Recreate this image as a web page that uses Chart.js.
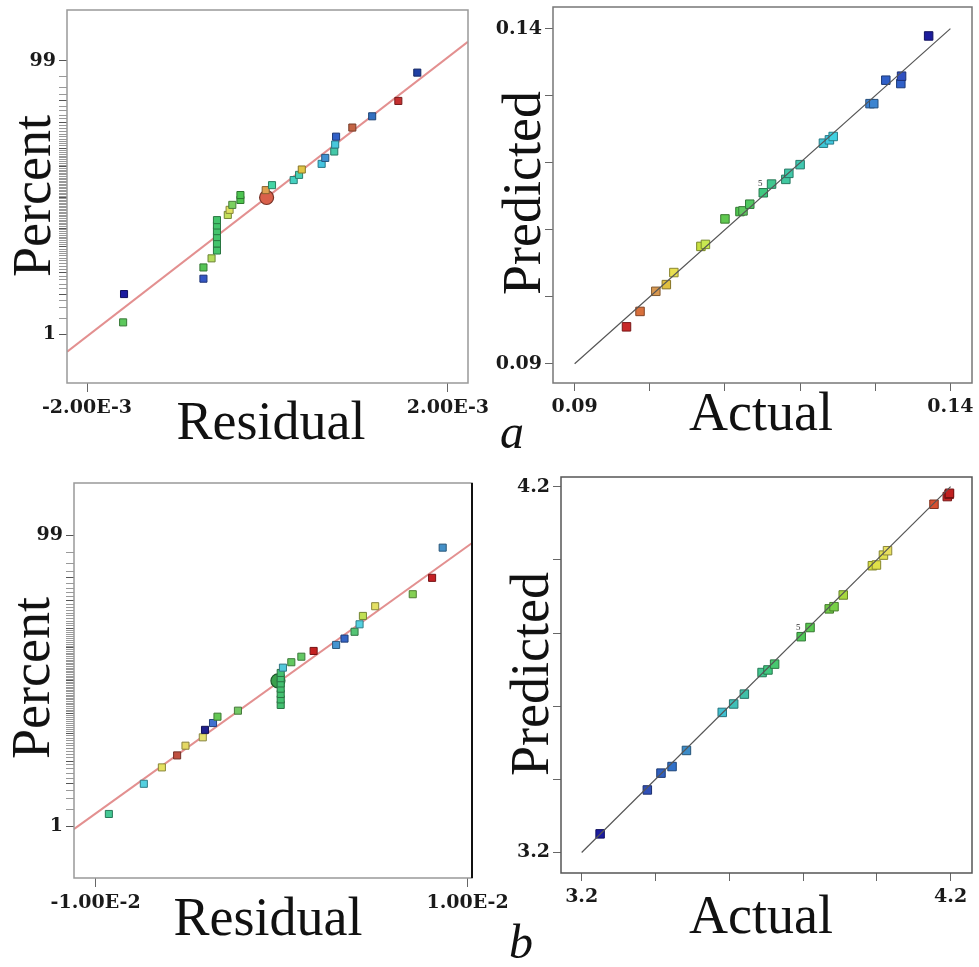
<!DOCTYPE html>
<html>
<head>
<meta charset="utf-8">
<script src="https://cdn.jsdelivr.net/npm/chart.js@4.4.1/dist/chart.umd.min.js"></script>
<style>
    body { margin: 0; background: #fff; width: 979px; height: 967px; position: relative; overflow: hidden; font-family: "Liberation Serif", "Times New Roman", serif; }
    canvas { position: absolute; left: 0; top: 0; }
    .title { position: absolute; font-size: 54px; line-height: 1; color: #111; white-space: nowrap; transform: translate(-50%, -50%); }
    .title.v { transform: translate(-50%, -50%) rotate(-90deg); }
    .tag { position: absolute; font-size: 48px; line-height: 1; font-style: italic; color: #111; }
</style>
</head>
<body>
<canvas id="aNormal" width="979" height="967"></canvas>
<canvas id="aPred" width="979" height="967"></canvas>
<canvas id="bNormal" width="979" height="967"></canvas>
<canvas id="bPred" width="979" height="967"></canvas>

<div class="title v" style="left:32px;top:196px">Percent</div>
<div class="title" style="left:271px;top:421px">Residual</div>
<div class="title v" style="left:522px;top:193px">Predicted</div>
<div class="title" style="left:761px;top:412px">Actual</div>
<div class="tag" style="left:500px;top:408px">a</div>

<div class="title v" style="left:31px;top:678px">Percent</div>
<div class="title" style="left:268px;top:917px">Residual</div>
<div class="title v" style="left:530px;top:674px">Predicted</div>
<div class="title" style="left:761px;top:915px">Actual</div>
<div class="tag" style="left:509px;top:918px">b</div>

<script>
// ---- shared: normal probability ranks (percent)
const percentRank = [1.67, 5.00, 8.33, 11.67, 15.00, 18.33, 21.67, 25.00, 28.33, 31.67,
    35.00, 38.33, 41.67, 45.00, 48.33, 51.67, 55.00, 58.33, 61.67, 65.00,
    68.33, 71.67, 75.00, 78.33, 81.67, 85.00, 88.33, 91.67, 95.00, 98.33];

// ---- panel a, normal plot of residuals
const aResidual = [-1.60e-3, -1.59e-3, -0.71e-3, -0.71e-3, -0.62e-3, -0.56e-3, -0.56e-3, -0.56e-3, -0.56e-3, -0.56e-3,
    -0.56e-3, -0.44e-3, -0.42e-3, -0.39e-3, -0.30e-3, -0.30e-3, -0.02e-3, 0.05e-3, 0.29e-3, 0.35e-3,
    0.38e-3, 0.60e-3, 0.64e-3, 0.74e-3, 0.75e-3, 0.76e-3, 0.94e-3, 1.16e-3, 1.45e-3, 1.66e-3];
const aResidualColors = ['#5cc85c', '#1c1ca0', '#3456c4', '#56c456', '#b4dc5a', '#44c46c', '#44c46c', '#44c46c', '#44c46c', '#44c46c',
    '#44c46c', '#c4e05a', '#e0e060', '#7cd060', '#4cc44c', '#4cc450', '#e0a050', '#44d4a4', '#44d0c0', '#48d0b4',
    '#e0c444', '#44c4e0', '#4090d0', '#44c8a8', '#48c8dc', '#3060c8', '#c46444', '#3470c0', '#c43030', '#2040a4'];
const aFitResidual = [-2.22e-3, 2.22e-3];
const aFitPercent = [0.43, 99.6];
const aCenter = [-0.01e-3, 50];

// ---- panel a, predicted vs actual
const aActual = [0.0969, 0.0987, 0.1008, 0.1022, 0.1032, 0.1068, 0.1074, 0.1100, 0.1120, 0.1124,
    0.1133, 0.1151, 0.1162, 0.1181, 0.1185, 0.1200, 0.1231, 0.1239, 0.1244, 0.1293,
    0.1298, 0.1314, 0.1334, 0.1335, 0.1371];
const aPredicted = [0.0955, 0.0978, 0.1008, 0.1018, 0.1036, 0.1075, 0.1078, 0.1116, 0.1127, 0.1128,
    0.1138, 0.1155, 0.1168, 0.1175, 0.1184, 0.1197, 0.1229, 0.1234, 0.1239, 0.1288,
    0.1288, 0.1323, 0.1318, 0.1329, 0.1389];
const aPredColors = ['#c82828', '#d8703c', '#d89850', '#e0c040', '#e8e050', '#c8e040', '#c8e850', '#60c850', '#50c850', '#60c860',
    '#50c860', '#40c880', '#40c890', '#40c8a0', '#40c8a8', '#40c8b0', '#40c8d8', '#40c8e0', '#40d0e0', '#3c80d0',
    '#3c84d0', '#3060c8', '#3060c8', '#3050c0', '#1c1c9c'];

// ---- panel b, normal plot of residuals
const bResidual = [-9.29e-3, -7.41e-3, -6.44e-3, -5.62e-3, -5.17e-3, -4.24e-3, -4.12e-3, -3.69e-3, -3.45e-3, -2.35e-3,
    -0.05e-3, -0.05e-3, -0.05e-3, -0.05e-3, -0.05e-3, -0.05e-3, -0.05e-3, 0.07e-3, 0.52e-3, 1.06e-3,
    1.72e-3, 2.93e-3, 3.38e-3, 3.92e-3, 4.19e-3, 4.37e-3, 5.03e-3, 7.05e-3, 8.09e-3, 8.66e-3];
const bResidualColors = ['#44c894', '#54d0e0', '#e4e060', '#c05040', '#e4d864', '#e4e070', '#20208c', '#4070d0', '#64c854', '#74c864',
    '#44c070', '#44c070', '#44c070', '#44c070', '#44c070', '#44c070', '#44c070', '#54c8dc', '#64c860', '#64c864',
    '#c42020', '#4494d0', '#3464c4', '#54c474', '#54d0e0', '#c0e054', '#e4e064', '#84d054', '#c42024', '#4490c8'];
const bFitResidual = [-11.17e-3, 10.24e-3];
const bFitPercent = [0.89, 98.61];
const bCenter = [-0.2e-3, 50];

// ---- panel b, predicted vs actual
const bActual = [3.250, 3.378, 3.415, 3.445, 3.484, 3.581, 3.612, 3.641, 3.689, 3.705,
    3.723, 3.795, 3.819, 3.871, 3.884, 3.909, 3.988, 3.999, 4.018, 4.029,
    4.155, 4.191, 4.196, 4.197];
const bPredicted = [3.251, 3.371, 3.417, 3.435, 3.479, 3.583, 3.606, 3.633, 3.692, 3.699,
    3.715, 3.790, 3.815, 3.866, 3.872, 3.904, 3.984, 3.986, 4.013, 4.025,
    4.152, 4.173, 4.179, 4.182];
const bPredColors = ['#1c1ca0', '#3050b8', '#3060c0', '#3070c8', '#3c8cc8', '#40c0d0', '#40c0b8', '#40c0a8', '#40c890', '#40c880',
    '#48c870', '#50c858', '#58c850', '#70c848', '#78d048', '#a8d840', '#d8e040', '#e0e048', '#e0e050', '#e8e060',
    '#d85030', '#c82828', '#c02020', '#c02020'];

// ---- tick positions and labels
const probTicks = [];
for (let p = 1; p <= 99; p++) probTicks.push(p);
const probMajor = [1, 5, 10, 20, 30, 50, 70, 80, 90, 95, 99];
const probLabels = probTicks.map(p => (p === 1 || p === 99) ? String(p) : '');
const aResTicks = [-2e-3, 2e-3];
const aResLabels = ['-2.00E-3', '2.00E-3'];
const aPredTicks = [0.09, 0.10, 0.11, 0.12, 0.13, 0.14];
const aPredLabels = ['0.09', '', '', '', '', '0.14'];
const bResTicks = [-1e-2, 1e-2];
const bResLabels = ['-1.00E-2', '1.00E-2'];
const bPredTicks = [3.2, 3.4, 3.6, 3.8, 4.0, 4.2];
const bPredLabels = ['3.2', '', '', '', '', '4.2'];

// inverse normal CDF (Acklam) - used for the probability axis
function probit(p) {
    const a = [-39.6968302866538, 220.946098424521, -275.928510446969, 138.357751867269, -30.6647980661472, 2.50662827745924];
    const b = [-54.4760987982241, 161.585836858041, -155.698979859887, 66.8013118877197, -13.2806815528857];
    const c = [-0.00778489400243029, -0.322396458041136, -2.40075827716184, -2.54973253934373, 4.37466414146497, 2.93816398269878];
    const d = [0.00778469570904146, 0.32246712907004, 2.445134137143, 3.75440866190742];
    const lo = 0.02425;
    if (p < lo) {
        const q = Math.sqrt(-2 * Math.log(p));
        return (((((c[0] * q + c[1]) * q + c[2]) * q + c[3]) * q + c[4]) * q + c[5]) / ((((d[0] * q + d[1]) * q + d[2]) * q + d[3]) * q + 1);
    }
    if (p > 1 - lo) {
        const q = Math.sqrt(-2 * Math.log(1 - p));
        return -(((((c[0] * q + c[1]) * q + c[2]) * q + c[3]) * q + c[4]) * q + c[5]) / ((((d[0] * q + d[1]) * q + d[2]) * q + d[3]) * q + 1);
    }
    const q = p - 0.5, r = q * q;
    return (((((a[0] * r + a[1]) * r + a[2]) * r + a[3]) * r + a[4]) * r + a[5]) * q / (((((b[0] * r + b[1]) * r + b[2]) * r + b[3]) * r + b[4]) * r + 1);
}

function shade(hex, f) {
    const n = parseInt(hex.slice(1), 16);
    const r = Math.round(((n >> 16) & 255) * f), g = Math.round(((n >> 8) & 255) * f), b = Math.round((n & 255) * f);
    return `rgb(${r},${g},${b})`;
}

const tickFont = { family: '"DejaVu Serif", serif', weight: 'bold', size: 19 };
const AXIS = 60;

/**
 * Frame round the plot area + small run-count notes
 */
const framePlugin = {
    id: 'frame',
    afterDraw(chart, args, opts) {
        const { ctx, chartArea: a } = chart;
        ctx.save();
        ctx.lineWidth = 1.5;
        ctx.strokeStyle = opts.color;
        ctx.strokeRect(a.left, a.top, a.right - a.left, a.bottom - a.top);
        if (opts.rightColor) {
            ctx.strokeStyle = opts.rightColor;
            ctx.lineWidth = 2;
            ctx.beginPath();
            ctx.moveTo(a.right, a.top);
            ctx.lineTo(a.right, a.bottom);
            ctx.stroke();
        }
        if (opts.note) {
            const x = chart.scales.x.getPixelForValue(opts.note.x);
            const y = chart.scales.y.getPixelForValue(opts.note.y);
            ctx.fillStyle = '#333';
            ctx.font = '9px "Liberation Serif", serif';
            ctx.textAlign = 'center';
            ctx.fillText(opts.note.text, x - 3, y - 7);
        }
        ctx.restore();
    }
};

function axis(a, dir) {
    return {
        type: 'linear',
        min: a.min,
        max: a.max,
        afterBuildTicks: s => { s.ticks = a.ticks.map(v => ({ value: v })); },
        afterFit: s => {
            if (dir === 'x') s.height = AXIS; else s.width = AXIS;
            s.paddingLeft = s.paddingRight = s.paddingTop = s.paddingBottom = 0;
        },
        border: { display: false },
        grid: {
            drawOnChartArea: false,
            tickLength: a.tickLength || 8,
            tickWidth: 1,
            tickColor: a.tickColor || '#666'
        },
        ticks: {
            autoSkip: false,
            maxRotation: 0,
            padding: a.pad,
            color: '#1a1a1a',
            font: tickFont,
            callback: (v, i) => a.labels[i]
        }
    };
}

function panel(id, box, o) {
    new Chart(document.getElementById(id), {
        type: 'scatter',
        data: { datasets: o.datasets },
        plugins: [framePlugin],
        options: {
            responsive: false,
            animation: false,
            events: [],
            layout: {
                padding: { left: box.l - AXIS, top: box.t, right: 979 - box.r, bottom: 967 - box.b - AXIS }
            },
            plugins: {
                legend: { display: false },
                tooltip: { enabled: false },
                frame: o.frame
            },
            scales: { x: axis(o.x, 'x'), y: axis(o.y, 'y') }
        }
    });
}

function markers(xs, ys, colors, radius) {
    return {
        data: xs.map((x, i) => ({ x: x, y: ys[i] })),
        pointStyle: 'rect',
        pointRadius: radius,
        backgroundColor: colors,
        borderColor: colors.map(c => shade(c, 0.6)),
        borderWidth: 1,
        showLine: false,
        order: 1
    };
}

// order: lower is drawn on top
function fitLine(xs, ys, color, width, order) {
    return {
        data: xs.map((x, i) => ({ x: x, y: ys[i] })),
        showLine: true,
        pointRadius: 0,
        borderColor: color,
        borderWidth: width,
        order: order
    };
}

function centerMark(pt, fill) {
    return {
        data: [{ x: pt[0], y: probit(pt[1] / 100) }],
        pointStyle: 'circle',
        pointRadius: 7,
        backgroundColor: fill,
        borderColor: shade(fill, 0.55),
        borderWidth: 1.2,
        order: 2
    };
}

const probAxis = (min, max) => ({
    min: min, max: max,
    ticks: probTicks.map(p => probit(p / 100)),
    labels: probLabels,
    pad: 3,
    tickLength: 8,
    tickColor: c => probMajor.includes(probTicks[c.index]) ? '#555' : '#999'
});

const z = arr => arr.map(p => probit(p / 100));

// a: normal plot
panel('aNormal', { l: 67, t: 10, r: 468, b: 383 }, {
    datasets: [
        markers(aResidual, z(percentRank), aResidualColors, 5),
        centerMark(aCenter, '#d9604a'),
        fitLine(aFitResidual, z(aFitPercent), '#e39090', 2, 3)
    ],
    frame: { color: '#999' },
    x: { min: -2.222e-3, max: 2.222e-3, ticks: aResTicks, labels: aResLabels, pad: 5, tickLength: 9 },
    y: probAxis(-3.16, 3.194)
});

// a: predicted vs actual
panel('aPred', { l: 553, t: 5, r: 973, b: 383 }, {
    datasets: [
        markers(aActual, aPredicted, aPredColors, 6),
        fitLine([0.09, 0.14], [0.09, 0.14], '#555', 1.2, 0)
    ],
    frame: { color: '#777', note: { x: 0.1151, y: 0.1155, text: '5' } },
    x: { min: 0.08712, max: 0.14287, ticks: aPredTicks, labels: aPredLabels, pad: 5 },
    y: { min: 0.08712, max: 0.14322, ticks: aPredTicks, labels: aPredLabels, pad: 3 }
});

// b: normal plot
panel('bNormal', { l: 74, t: 483, r: 472, b: 878 }, {
    datasets: [
        markers(bResidual, z(percentRank), bResidualColors, 5),
        centerMark(bCenter, '#3aa04c'),
        fitLine(bFitResidual, z(bFitPercent), '#e39090', 2, 3)
    ],
    frame: { color: '#999', rightColor: '#111' },
    x: { min: -11.165e-3, max: 10.236e-3, ticks: bResTicks, labels: bResLabels, pad: 5, tickLength: 9 },
    y: probAxis(-3.15, 3.16)
});

// b: predicted vs actual
panel('bPred', { l: 561, t: 477, r: 975, b: 873 }, {
    datasets: [
        markers(bActual, bPredicted, bPredColors, 6),
        fitLine([3.2, 4.2], [3.2, 4.2], '#555', 1.2, 0)
    ],
    frame: { color: '#555', note: { x: 3.795, y: 3.790, text: '5' } },
    x: { min: 3.144, max: 4.258, ticks: bPredTicks, labels: bPredLabels, pad: 5 },
    y: { min: 3.144, max: 4.2265, ticks: bPredTicks, labels: bPredLabels, pad: 3 }
});
</script>
</body>
</html>
